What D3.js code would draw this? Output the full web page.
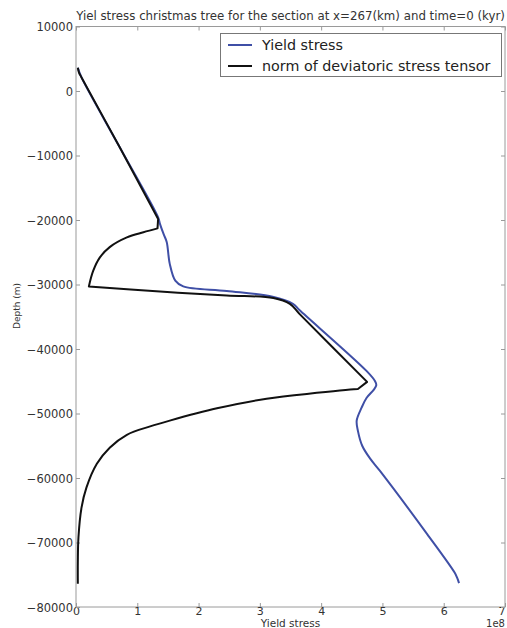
<!DOCTYPE html>
<html>
<head>
<meta charset="utf-8">
<script src="https://cdn.jsdelivr.net/npm/d3@7"></script>
<style>
  html, body { margin: 0; padding: 0; background: #fff; }
  svg { display: block; font-family: "DejaVu Sans", sans-serif; }
</style>
</head>
<body>
<svg id="chart" width="507" height="628"></svg>
<script>
// ---- data (stress in Pa, depth in m) ----
const titleText = "Yiel stress christmas tree for the section at x=267(km) and time=0 (kyr)";
const xLabel = "Yield stress";
const yLabel = "Depth (m)";
const seriesNames = ["Yield stress", "norm of deviatoric stress tensor"];

const xTicks = [0, 1e8, 2e8, 3e8, 4e8, 5e8, 6e8, 7e8];
const yTicks = [10000, 0, -10000, -20000, -30000, -40000, -50000, -60000, -70000, -80000];

const yieldStress = [0.03e8, 0.09e8, 0.70e8, 1.34e8, 1.37e8, 1.43e8, 1.48e8, 1.53e8, 1.62e8, 1.75e8, 2.46e8, 3.21e8, 3.54e8, 3.65e8, 4.74e8, 4.88e8, 4.90e8, 4.86e8, 4.74e8, 4.66e8, 4.58e8, 4.60e8, 4.67e8, 4.80e8, 4.96e8, 5.73e8, 6.18e8, 6.22e8, 6.25e8];
const yieldDepth  = [3600, 2100, -8500, -19600, -20600, -22200, -23400, -26800, -29400, -30300, -31000, -31900, -33000, -34000, -43400, -45000, -45600, -46300, -47600, -49100, -51100, -52700, -55000, -57000, -58900, -68700, -74700, -75500, -76300];

const devStress = [0.03e8, 0.05e8, 0.09e8, 0.70e8, 1.34e8, 1.33e8, 1.10e8, 0.83e8, 0.55e8, 0.39e8, 0.28e8, 0.21e8, 1.37e8, 2.46e8, 3.22e8, 3.49e8, 3.65e8, 4.75e8, 4.60e8, 3.93e8, 3.11e8, 2.30e8, 1.53e8, 1.21e8, 0.83e8, 0.55e8, 0.34e8, 0.17e8, 0.09e8, 0.04e8, 0.03e8, 0.03e8];
const devDepth  = [3600, 2800, 2100, -8500, -19850, -21300, -21900, -22700, -24200, -25800, -27900, -30300, -31100, -31700, -32100, -33000, -34600, -45100, -46200, -46800, -47700, -49200, -51100, -52000, -53300, -55300, -57800, -61500, -64600, -69200, -73000, -76400];

// indices where the curves have sharp corners
const yieldCorners = [0, 28];
const devCorners = [0, 4, 5, 11, 17, 18, 31];

// ---- layout ----
const svg = d3.select("#chart");
const L = 76, R = 505, T = 26.5, B = 607;

const x = d3.scaleLinear().domain([0, 7e8]).range([L, R]);
const y = d3.scaleLinear().domain([-80000, 10000]).range([B, T]);

const axisColor = "#9a9a9a";
const textColor = "#333";

// frame
svg.append("rect")
  .attr("x", L).attr("y", T).attr("width", R - L).attr("height", B - T)
  .attr("fill", "none").attr("stroke", axisColor).attr("stroke-width", 1);

// axes (inward ticks)
const gx = svg.append("g").attr("transform", `translate(0,${B})`)
  .call(d3.axisBottom(x).tickValues(xTicks).tickSize(-4).tickPadding(0.5)
    .tickFormat(d => d3.format("d")(d / 1e8)));
const gxTop = svg.append("g").attr("transform", `translate(0,${T})`)
  .call(d3.axisTop(x).tickValues(xTicks).tickSize(-4).tickFormat(""));
const gy = svg.append("g").attr("transform", `translate(${L},0)`)
  .call(d3.axisLeft(y).tickValues(yTicks).tickSize(-4).tickPadding(3)
    .tickFormat(d => d < 0 ? "\u2212" + Math.abs(d) : String(d)));
const gyR = svg.append("g").attr("transform", `translate(${R},0)`)
  .call(d3.axisRight(y).tickValues(yTicks).tickSize(-4).tickFormat(""));

[gx, gxTop, gy, gyR].forEach(g => {
  g.select(".domain").remove();
  g.selectAll(".tick line").attr("stroke", axisColor);
  g.selectAll(".tick text").attr("fill", textColor)
    .style("font-size", "11.5px").style("font-family", "'DejaVu Sans', sans-serif");
});
gx.selectAll(".tick text").style("font-size", "11px");
gy.selectAll(".tick text").attr("dy", "0.35em");
gx.selectAll(".tick text").attr("dy", "0.71em");
gx.selectAll(".tick text").filter(d => d === 7e8).attr("text-anchor", "end");

// lines: smooth pieces between sharp corners
const smooth = d3.line().x(d => x(d[0])).y(d => y(d[1])).curve(d3.curveCatmullRom.alpha(0.5));
function cornerPath(pts, corners) {
  let d = "";
  for (let k = 0; k < corners.length - 1; k++) {
    const piece = smooth(pts.slice(corners[k], corners[k + 1] + 1));
    d += k === 0 ? piece : piece.replace(/^M[^A-Za-z]*/, "L" + x(pts[corners[k]][0]) + "," + y(pts[corners[k]][1]));
  }
  return d;
}
const yieldPts = yieldStress.map((v, i) => [v, yieldDepth[i]]);
const devPts = devStress.map((v, i) => [v, devDepth[i]]);

svg.append("path").attr("d", cornerPath(yieldPts, yieldCorners)).attr("fill", "none")
  .attr("stroke", "#3f4fa6").attr("stroke-width", 2).attr("stroke-linejoin", "round");
svg.append("path").attr("d", cornerPath(devPts, devCorners)).attr("fill", "none")
  .attr("stroke", "#111").attr("stroke-width", 2).attr("stroke-linejoin", "round");

// title
svg.append("text").attr("x", (L + R) / 2).attr("y", 20)
  .attr("text-anchor", "middle").attr("fill", textColor)
  .style("font-size", "11.8px").text(titleText);

// axis labels
svg.append("text").attr("x", (L + R) / 2).attr("y", 627)
  .attr("text-anchor", "middle").attr("fill", textColor)
  .style("font-size", "10.5px").text(xLabel);
svg.append("text").attr("x", R).attr("y", 627.3)
  .attr("text-anchor", "end").attr("fill", textColor)
  .style("font-size", "10px").text("1e8");
svg.append("text")
  .attr("transform", `translate(20,306) rotate(-90)`)
  .attr("text-anchor", "middle").attr("fill", textColor)
  .style("font-size", "9px").text(yLabel);

// legend
const lg = svg.append("g");
lg.append("rect").attr("x", 220.5).attr("y", 33.5).attr("width", 281).attr("height", 43)
  .attr("fill", "#fff").attr("stroke", "#777").attr("stroke-width", 1);
const legendColors = ["#3f4fa6", "#111"];
seriesNames.forEach((name, i) => {
  const cy = 45 + i * 21;
  lg.append("line").attr("x1", 228).attr("x2", 252).attr("y1", cy).attr("y2", cy)
    .attr("stroke", legendColors[i]).attr("stroke-width", 2);
  lg.append("text").attr("x", 262).attr("y", cy).attr("dy", "0.35em")
    .attr("fill", "#222").style("font-size", "14.3px").text(name);
});
</script>
</body>
</html>
